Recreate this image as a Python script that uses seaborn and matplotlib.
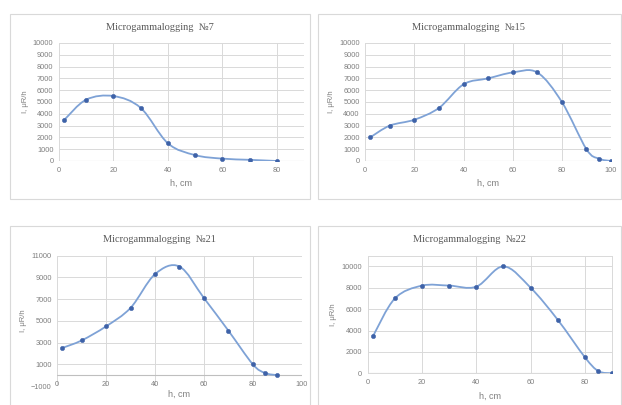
import numpy as np
import pandas as pd
import seaborn as sns
import matplotlib
matplotlib.use("Agg")
import matplotlib.pyplot as plt
from matplotlib.path import Path
from matplotlib.patches import PathPatch, Rectangle

# ---------------- data ----------------
titles = ["Microgammalogging  №7", "Microgammalogging  №15",
          "Microgammalogging  №21", "Microgammalogging  №22"]

h7 = [2, 10, 20, 30, 40, 50, 60, 70, 80]
i7 = [3500, 5200, 5500, 4500, 1500, 500, 200, 100, 0]

h15 = [2, 10, 20, 30, 40, 50, 60, 70, 80, 90, 95, 100]
i15 = [2000, 3000, 3500, 4500, 6500, 7000, 7500, 7500, 5000, 1000, 200, 0]

h21 = [2, 10, 20, 30, 40, 50, 60, 70, 80, 85, 90]
i21 = [2500, 3200, 4500, 6200, 9300, 10000, 7100, 4100, 1000, 200, 0]

h22 = [2, 10, 20, 30, 40, 50, 60, 70, 80, 85, 90]
i22 = [3500, 7000, 8200, 8200, 8100, 10000, 8000, 5000, 1500, 200, 0]

xticks7 = [0, 20, 40, 60, 80]
yticks7 = list(range(0, 10001, 1000))
xticks15 = [0, 20, 40, 60, 80, 100]
yticks15 = list(range(0, 10001, 1000))
xticks21 = [0, 20, 40, 60, 80, 100]
yticks21 = list(range(-1000, 11001, 2000))
xticks22 = [0, 20, 40, 60, 80]
yticks22 = list(range(0, 10001, 2000))

# ---------------- style ----------------
sns.set_style("white")
plt.rcParams['font.family'] = ['Liberation Sans', 'DejaVu Sans']

LINE = "#7EA2D6"
MARK = "#3E62A8"
GRID = "#D9D9D9"
TXT = "#7F7F7F"

fig = plt.figure(figsize=(6.22, 4.05), dpi=100)

boxes = [(0.016, 0.5086, 0.482, 0.457), (0.511, 0.5086, 0.487, 0.457),
         (0.016, -0.01, 0.482, 0.452), (0.511, -0.01, 0.487, 0.452)]
for b in boxes:
    fig.patches.append(Rectangle((b[0], b[1]), b[2], b[3], transform=fig.transFigure,
                                 fill=False, edgecolor="#D9D9D9", linewidth=0.8))

axes_pos = [[0.0949, 0.6025, 0.3938, 0.2914],
            [0.5873, 0.6025, 0.3950, 0.2914],
            [0.0921, 0.0469, 0.3929, 0.3218],
            [0.5912, 0.0783, 0.3928, 0.2904]]

datasets = [(h7, i7, xticks7, yticks7, (0, 90), (0, 10000)),
            (h15, i15, xticks15, yticks15, (0, 100), (0, 10000)),
            (h21, i21, xticks21, yticks21, (0, 100), (-1000, 11000)),
            (h22, i22, xticks22, yticks22, (0, 90), (0, 11000))]

title_y = [1 - 27 / 405, 1 - 27 / 405, 1 - 240 / 405, 1 - 240 / 405]
title_x = [0.257, 0.754, 0.257, 0.754]


def smooth_path(xs, ys):
    pts = np.column_stack([xs, ys]).astype(float)
    n = len(pts)
    verts = [pts[0]]
    codes = [Path.MOVETO]
    for k in range(n - 1):
        p0 = pts[k - 1] if k > 0 else pts[k]
        p1 = pts[k]
        p2 = pts[k + 1]
        p3 = pts[k + 2] if k + 2 < n else pts[k + 1]
        c1 = p1 + (p2 - p0) / 6.0
        c2 = p2 - (p3 - p1) / 6.0
        verts += [c1, c2, p2]
        codes += [Path.CURVE4] * 3
    return Path(verts, codes)


for idx, (pos, (hx, iy, xt, yt, xl, yl)) in enumerate(zip(axes_pos, datasets)):
    ax = fig.add_axes(pos)
    df = pd.DataFrame({"h": hx, "I": iy})
    ax.add_patch(PathPatch(smooth_path(df["h"], df["I"]), fill=False,
                           edgecolor=LINE, linewidth=1.3, zorder=3))
    sns.scatterplot(data=df, x="h", y="I", ax=ax, color=MARK, s=10,
                    edgecolor=MARK, linewidth=0.3, zorder=4)
    ax.set_xlim(*xl)
    ax.set_ylim(*yl)
    ax.set_xticks(xt)
    ax.set_yticks(yt)
    ax.grid(True, color=GRID, linewidth=0.7)
    ax.set_axisbelow(True)
    for s in ax.spines.values():
        s.set_visible(False)
    if idx == 3:
        for s in ax.spines.values():
            s.set_visible(True)
            s.set_color(GRID)
            s.set_linewidth(0.7)
    ax.axhline(0, color="#BFBFBF", linewidth=0.8, zorder=2)
    ax.tick_params(axis='both', length=0, labelsize=5.3, labelcolor=TXT, pad=4)
    xlpad = 4
    if idx == 2:
        ax.tick_params(axis='x', pad=-3.5)
        ax.yaxis.get_gridlines()[0].set_visible(False)
        xlpad = 1
    ax.set_xlabel("h, cm", fontsize=6.5, color=TXT, labelpad=xlpad)
    ax.set_ylabel("I, μR/h", fontsize=5.5, color=TXT, labelpad=3)
    fig.text(title_x[idx], title_y[idx], titles[idx], ha="center", va="center",
             fontsize=7.5, color="#595959", family=["Liberation Serif", "DejaVu Serif"])

fig.savefig("out.png", dpi=100)
